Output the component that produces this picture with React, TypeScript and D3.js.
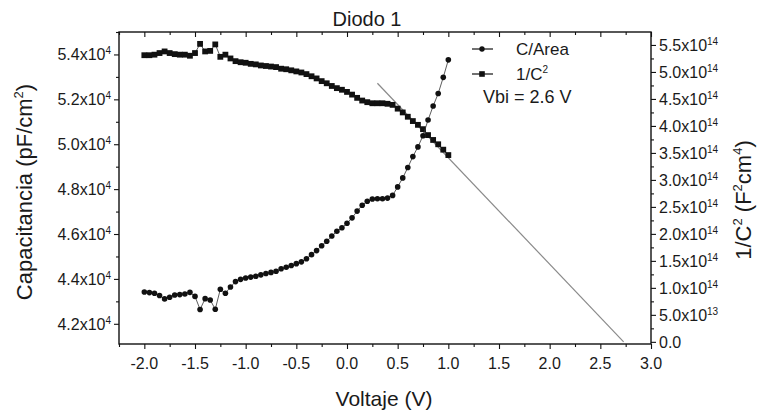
import React, { useEffect, useRef } from "react";
import * as d3 from "d3";

const voltages = [
  -2.0, -1.95, -1.9, -1.85, -1.8, -1.75, -1.7, -1.65, -1.6, -1.55, -1.5, -1.45, -1.4, -1.35, -1.3, -1.25,
  -1.2, -1.15, -1.1, -1.05, -1.0, -0.95, -0.9, -0.85, -0.8, -0.75, -0.7, -0.65, -0.6, -0.55, -0.5, -0.45,
  -0.4, -0.35, -0.3, -0.25, -0.2, -0.15, -0.1, -0.05, 0.0, 0.05, 0.1, 0.15, 0.2, 0.25, 0.3, 0.35, 0.4,
  0.45, 0.5, 0.55, 0.6, 0.65, 0.7, 0.75, 0.8, 0.85, 0.9, 0.95, 1.0,
];

// C/Area in units of 1e4 pF/cm^2
const capArea = [
  4.342, 4.339, 4.336, 4.326, 4.311, 4.318, 4.328, 4.33, 4.333, 4.34, 4.322, 4.264, 4.312, 4.306, 4.265, 4.354,
  4.336, 4.364, 4.388, 4.398, 4.404, 4.408, 4.412, 4.418, 4.424, 4.429, 4.434, 4.445, 4.452, 4.46, 4.468, 4.476,
  4.49, 4.508, 4.526, 4.548, 4.568, 4.591, 4.612, 4.628, 4.648, 4.672, 4.702, 4.728, 4.746, 4.756, 4.757, 4.757,
  4.76, 4.772, 4.81, 4.85, 4.896, 4.945, 4.988, 5.038, 5.108, 5.17, 5.226, 5.298, 5.376,
];

// 1/C^2 in units of 1e14 F^-2 cm^4
const invC2 = [
  5.31, 5.31, 5.32, 5.35, 5.38, 5.35, 5.33, 5.32, 5.32, 5.3, 5.35, 5.52, 5.38, 5.39, 5.51, 5.28,
  5.32, 5.25, 5.2, 5.18, 5.17, 5.15, 5.14, 5.12, 5.11, 5.1, 5.09, 5.06, 5.05, 5.03, 5.01, 4.99,
  4.96, 4.92, 4.88, 4.83, 4.79, 4.74, 4.7, 4.67, 4.63, 4.58, 4.52, 4.47, 4.44, 4.42, 4.42, 4.42,
  4.41, 4.39, 4.32, 4.25, 4.17, 4.09, 4.02, 3.94, 3.83, 3.74, 3.66, 3.56, 3.46,
];

// linear fit of 1/C^2 (extrapolated to the voltage axis)
const fitVoltages = [0.3, 2.73];
const fitValues = [4.79, 0.0];

const xTicks = [-2.0, -1.5, -1.0, -0.5, 0.0, 0.5, 1.0, 1.5, 2.0, 2.5, 3.0];
const xMinorTicks = [-2.25, -1.75, -1.25, -0.75, -0.25, 0.25, 0.75, 1.25, 1.75, 2.25, 2.75];
const leftTicks = [4.2, 4.4, 4.6, 4.8, 5.0, 5.2, 5.4];
const leftMinorTicks = [4.3, 4.5, 4.7, 4.9, 5.1, 5.3, 5.5];
const rightTicks = [0.0, 0.5, 1.0, 1.5, 2.0, 2.5, 3.0, 3.5, 4.0, 4.5, 5.0, 5.5];
const rightMinorTicks = [0.25, 0.75, 1.25, 1.75, 2.25, 2.75, 3.25, 3.75, 4.25, 4.75, 5.25];

const FONT = "'Liberation Sans', Arial, sans-serif";

export default function App() {
  const ref = useRef<SVGSVGElement>(null);

  useEffect(() => {
    const svg = d3.select(ref.current);
    svg.selectAll("*").remove();

    const L = 119, R = 651, T = 32, B = 344;
    const x = d3.scaleLinear().domain([-2.25, 3.0]).range([L, R]);
    const yL = d3.scaleLinear().domain([4.11, 5.5]).range([B, T]);
    const yR = d3.scaleLinear().domain([-0.04, 5.74]).range([B, T]);

    svg.append("rect").attr("width", 760).attr("height", 414).attr("fill", "#ffffff");

    const axisStyle = (g: any) => {
      g.selectAll("path").remove();
      g.selectAll("line").attr("stroke", "#111").attr("stroke-width", 1.1);
      g.selectAll("text").remove();
    };

    // bottom axis
    svg.append("g").attr("transform", `translate(0,${B})`)
      .call(d3.axisBottom(x).tickValues(xTicks).tickSize(5)).call(axisStyle);
    svg.append("g").attr("transform", `translate(0,${B})`)
      .call(d3.axisBottom(x).tickValues(xMinorTicks).tickSize(3)).call(axisStyle);
    // top axis (inward ticks)
    svg.append("g").attr("transform", `translate(0,${T})`)
      .call(d3.axisBottom(x).tickValues(xTicks).tickSize(5)).call(axisStyle);
    svg.append("g").attr("transform", `translate(0,${T})`)
      .call(d3.axisBottom(x).tickValues(xMinorTicks).tickSize(3)).call(axisStyle);
    // left axis
    svg.append("g").attr("transform", `translate(${L},0)`)
      .call(d3.axisLeft(yL).tickValues(leftTicks).tickSize(5)).call(axisStyle);
    svg.append("g").attr("transform", `translate(${L},0)`)
      .call(d3.axisLeft(yL).tickValues(leftMinorTicks).tickSize(3)).call(axisStyle);
    // right axis
    svg.append("g").attr("transform", `translate(${R},0)`)
      .call(d3.axisRight(yR).tickValues(rightTicks).tickSize(5)).call(axisStyle);
    svg.append("g").attr("transform", `translate(${R},0)`)
      .call(d3.axisRight(yR).tickValues(rightMinorTicks).tickSize(3)).call(axisStyle);

    // frame
    svg.append("rect").attr("x", L).attr("y", T).attr("width", R - L).attr("height", B - T)
      .attr("fill", "none").attr("stroke", "#111").attr("stroke-width", 1.4);

    // tick labels
    const tickFs = 16;
    svg.append("g").selectAll("text").data(xTicks).join("text")
      .attr("x", (d) => x(d)).attr("y", B + 25).attr("text-anchor", "middle")
      .attr("font-family", FONT).attr("font-size", tickFs).attr("fill", "#1a1a1a")
      .text((d) => d.toFixed(1));

    const supLabel = (sel: any, base: (d: number) => string, sup: (d: number) => string) => {
      sel.each(function (this: SVGTextElement, d: number) {
        const t = d3.select(this);
        t.append("tspan").text(base(d));
        const s = sup(d);
        if (s) {
          t.append("tspan").attr("dy", -6).attr("font-size", 10).text(s);
        }
      });
    };

    svg.append("g").selectAll("text").data(leftTicks).join("text")
      .attr("x", L - 8).attr("y", (d) => yL(d) + 6).attr("text-anchor", "end")
      .attr("font-family", FONT).attr("font-size", tickFs).attr("fill", "#1a1a1a")
      .call(supLabel, (d: number) => `${d.toFixed(1)}x10`, () => "4");

    svg.append("g").selectAll("text").data(rightTicks).join("text")
      .attr("x", R + 8).attr("y", (d) => yR(d) + 6).attr("text-anchor", "start")
      .attr("font-family", FONT).attr("font-size", tickFs).attr("fill", "#1a1a1a")
      .call(
        supLabel,
        (d: number) => (d === 0 ? "0.0" : d < 1 ? `${(d * 10).toFixed(1)}x10` : `${d.toFixed(1)}x10`),
        (d: number) => (d === 0 ? "" : d < 1 ? "13" : "14")
      );

    // fit line
    const fitLine = d3.line<number>().x((_, i) => x(fitVoltages[i])).y((d) => yR(d));
    svg.append("path").attr("d", fitLine(fitValues)).attr("fill", "none")
      .attr("stroke", "#8a8a8a").attr("stroke-width", 1.2);

    // 1/C^2 series (right axis, squares)
    const lineR = d3.line<number>().x((_, i) => x(voltages[i])).y((d) => yR(d));
    svg.append("path").attr("d", lineR(invC2)).attr("fill", "none").attr("stroke", "#333").attr("stroke-width", 0.8);
    svg.append("g").selectAll("rect").data(invC2).join("rect")
      .attr("x", (_, i) => x(voltages[i]) - 2.9).attr("y", (d) => yR(d) - 2.9)
      .attr("width", 5.8).attr("height", 5.8).attr("fill", "#111");

    // C/Area series (left axis, circles)
    const lineL = d3.line<number>().x((_, i) => x(voltages[i])).y((d) => yL(d));
    svg.append("path").attr("d", lineL(capArea)).attr("fill", "none").attr("stroke", "#333").attr("stroke-width", 0.8);
    svg.append("g").selectAll("circle").data(capArea).join("circle")
      .attr("cx", (_, i) => x(voltages[i])).attr("cy", (d) => yL(d)).attr("r", 2.8).attr("fill", "#111");

    // legend
    const lg = svg.append("g");
    const legY1 = 49, legY2 = 74;
    lg.append("line").attr("x1", 472).attr("x2", 493).attr("y1", legY1).attr("y2", legY1).attr("stroke", "#111").attr("stroke-width", 1.2);
    lg.append("circle").attr("cx", 482).attr("cy", legY1).attr("r", 2.7).attr("fill", "#111");
    lg.append("text").attr("x", 516).attr("y", legY1 + 6).attr("font-family", FONT).attr("font-size", 17).attr("fill", "#1a1a1a").text("C/Area");
    lg.append("line").attr("x1", 472).attr("x2", 493).attr("y1", legY2).attr("y2", legY2).attr("stroke", "#111").attr("stroke-width", 1.2);
    lg.append("rect").attr("x", 479.2).attr("y", legY2 - 2.8).attr("width", 5.6).attr("height", 5.6).attr("fill", "#111");
    const t2 = lg.append("text").attr("x", 516).attr("y", legY2 + 6).attr("font-family", FONT).attr("font-size", 17).attr("fill", "#1a1a1a");
    t2.append("tspan").text("1/C");
    t2.append("tspan").attr("dy", -7).attr("font-size", 10).text("2");
    lg.append("text").attr("x", 483).attr("y", 103).attr("font-family", FONT).attr("font-size", 18).attr("fill", "#1a1a1a").text("Vbi = 2.6 V");

    // title
    svg.append("text").attr("x", 367).attr("y", 26).attr("text-anchor", "middle")
      .attr("font-family", FONT).attr("font-size", 20).attr("fill", "#1a1a1a").text("Diodo 1");

    // x axis title
    svg.append("text").attr("x", 384).attr("y", 406).attr("text-anchor", "middle")
      .attr("font-family", FONT).attr("font-size", 21).attr("fill", "#1a1a1a").text("Voltaje (V)");

    // left axis title
    const lt = svg.append("text").attr("transform", "translate(32,192) rotate(-90)").attr("text-anchor", "middle")
      .attr("font-family", FONT).attr("font-size", 22).attr("fill", "#1a1a1a");
    lt.append("tspan").text("Capacitancia (pF/cm");
    lt.append("tspan").attr("dy", -9).attr("font-size", 13).text("2");
    lt.append("tspan").attr("dy", 9).text(")");

    // right axis title
    const rt = svg.append("text").attr("transform", "translate(751,200) rotate(-90)").attr("text-anchor", "middle")
      .attr("font-family", FONT).attr("font-size", 22).attr("fill", "#1a1a1a");
    rt.append("tspan").text("1/C");
    rt.append("tspan").attr("dy", -9).attr("font-size", 13).text("2");
    rt.append("tspan").attr("dy", 9).text(" (F");
    rt.append("tspan").attr("dy", -9).attr("font-size", 13).text("2");
    rt.append("tspan").attr("dy", 9).text("cm");
    rt.append("tspan").attr("dy", -9).attr("font-size", 13).text("4");
    rt.append("tspan").attr("dy", 9).text(")");
  }, []);

  return (
    <svg
      ref={ref}
      width={760}
      height={414}
      style={{ position: "absolute", left: 0, top: 0, display: "block" }}
    />
  );
}
